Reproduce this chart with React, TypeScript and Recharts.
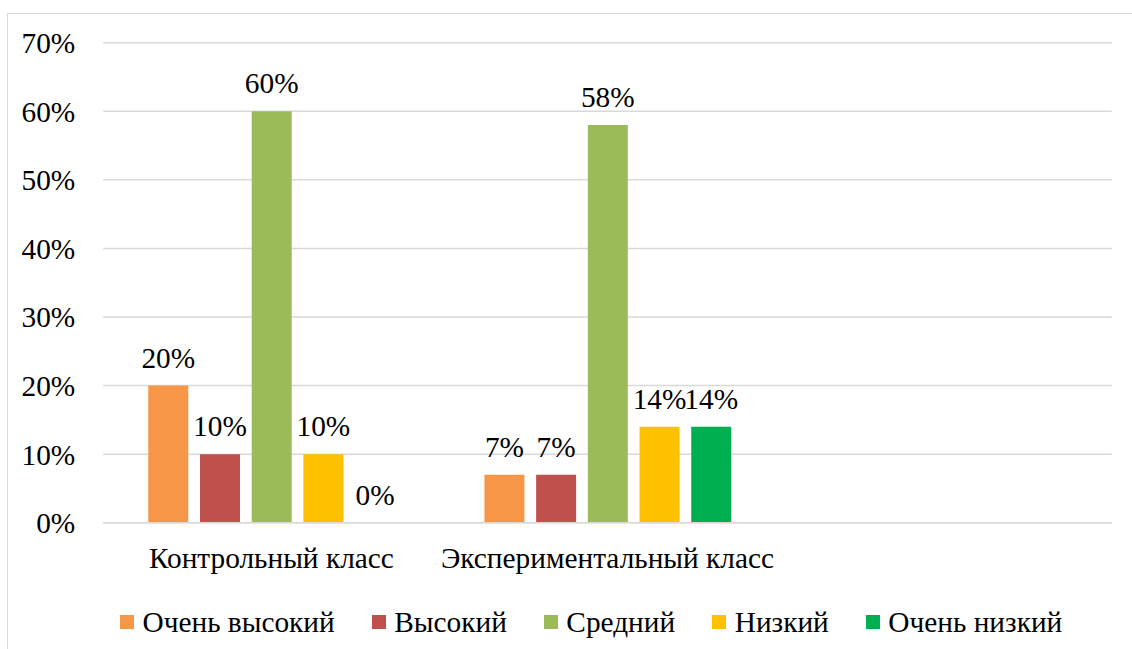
import { Bar, BarChart, CartesianGrid, LabelList, XAxis, YAxis } from "recharts";

const categories = ["Контрольный класс", "Экспериментальный класс", ""];
const veryHigh = [20, 7, null];
const high = [10, 7, null];
const medium = [60, 58, null];
const low = [10, 14, null];
const veryLow = [0, 14, null];
const yTicks = [0, 10, 20, 30, 40, 50, 60, 70];

const series = [
  { key: "veryHigh", name: "Очень высокий", color: "#F79646" },
  { key: "high", name: "Высокий", color: "#C0504D" },
  { key: "medium", name: "Средний", color: "#9BBB59" },
  { key: "low", name: "Низкий", color: "#FFC000" },
  { key: "veryLow", name: "Очень низкий", color: "#00B050" },
];

const rows = categories.map((name, i) => ({
  name,
  veryHigh: veryHigh[i],
  high: high[i],
  medium: medium[i],
  low: low[i],
  veryLow: veryLow[i],
}));

const FONT = '"Liberation Serif", "Times New Roman", serif';
const FS = 29.33;
const GRID = "#d9d9d9";

const pct = (v: unknown) => (v == null ? "" : `${v}%`);

export default function App() {
  return (
    <div
      style={{
        position: "absolute",
        left: 0,
        top: 0,
        width: 1132,
        height: 649,
        overflow: "hidden",
        background: "#fff",
        fontFamily: FONT,
      }}
    >
      {/* chart frame, only top and left edges are visible */}
      <div
        style={{
          position: "absolute",
          left: 7,
          top: 13,
          width: 1200,
          height: 700,
          borderTop: `1.5px solid ${GRID}`,
          borderLeft: `1.5px solid ${GRID}`,
        }}
      />
      <div style={{ position: "absolute", left: 0, top: 0 }}>
        <BarChart
          width={1132}
          height={649}
          data={rows}
          margin={{ top: 42.7, right: 20.3, bottom: 0, left: 0 }}
          barSize={40}
          barGap={11.7}
        >
          <CartesianGrid vertical={false} stroke={GRID} strokeWidth={1.5} />
          <XAxis
            dataKey="name"
            height={126.3}
            tickLine={false}
            tickSize={6}
            tickMargin={18.5}
            axisLine={{ stroke: GRID, strokeWidth: 1.5 }}
            tick={{ fill: "#000", fontSize: FS, fontFamily: FONT }}
            interval={0}
          />
          <YAxis
            width={103.3}
            domain={[0, 70]}
            ticks={yTicks}
            tickFormatter={(v) => `${v}%`}
            axisLine={false}
            tickLine={false}
            tickSize={0}
            tickMargin={28}
            tick={{ fill: "#000", fontSize: FS, fontFamily: FONT }}
          />
          {series.map((s) => (
            <Bar
              key={s.key}
              dataKey={s.key}
              name={s.name}
              fill={s.color}
              minPointSize={0.01}
              isAnimationActive={false}
            >
              <LabelList
                dataKey={s.key}
                position="top"
                offset={18}
                formatter={pct}
                style={{ fill: "#000", fontSize: FS, fontFamily: FONT }}
              />
            </Bar>
          ))}
        </BarChart>
      </div>
      {/* legend */}
      <div
        style={{
          position: "absolute",
          left: 120,
          top: 605,
          display: "flex",
          alignItems: "center",
          gap: 37,
          fontSize: FS,
          color: "#000",
          whiteSpace: "nowrap",
        }}
      >
        {series.map((s) => (
          <div key={s.key} style={{ display: "flex", alignItems: "center" }}>
            <span style={{ width: 14, height: 14, background: s.color, marginRight: 8.5, display: "inline-block" }} />
            <span style={{ lineHeight: "34px" }}>{s.name}</span>
          </div>
        ))}
      </div>
    </div>
  );
}
